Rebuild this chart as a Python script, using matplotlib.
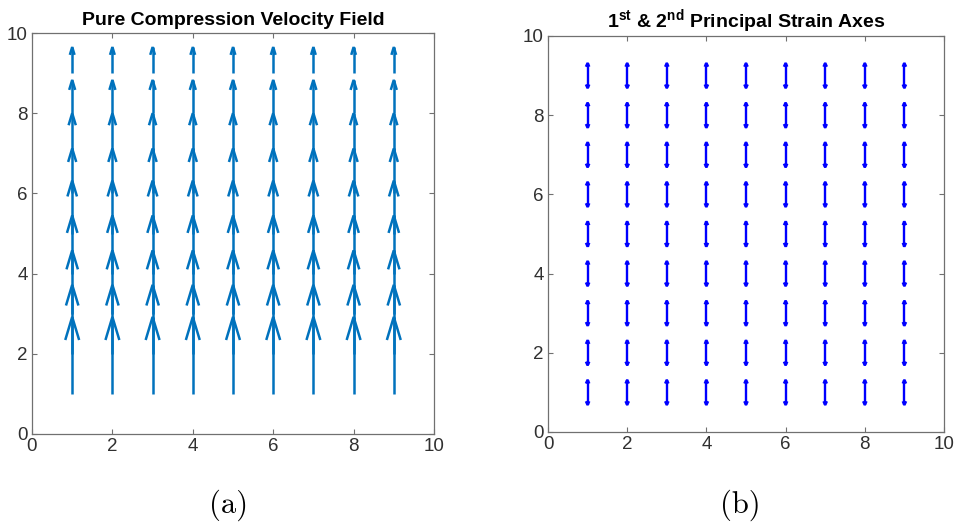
import numpy as np
import matplotlib
matplotlib.use("Agg")
import matplotlib.pyplot as plt

plt.rcParams['font.family'] = ['Liberation Sans', 'DejaVu Sans']
plt.rcParams['mathtext.fontset'] = 'custom'
plt.rcParams['mathtext.rm'] = 'Liberation Sans'
plt.rcParams['mathtext.bf'] = 'Liberation Sans:bold'

# grid points (both panels)
xs = [1, 2, 3, 4, 5, 6, 7, 8, 9]
ys = [1, 2, 3, 4, 5, 6, 7, 8, 9]
# (a) vertical velocity at each row y=1..9
v_rows = [1.92, 1.72, 1.58, 1.45, 1.32, 1.12, 1.0, 0.83, 0.65]
# (b) half-length of the principal strain arrows at each row
e_rows = [0.32, 0.32, 0.32, 0.32, 0.32, 0.32, 0.32, 0.32, 0.32]
ticks = [0, 2, 4, 6, 8, 10]

vel_col = '#0072BD'
strain_col = '#0000FF'
axis_col = '#707070'


def arrow(ax, x, y, u, v, col, lw, alpha=0.3, beta=0.3):
    # matlab-style quiver arrow: shaft + open head
    ax.plot([x, x + u], [y, y + v], color=col, lw=lw, solid_capstyle='butt')
    hx = [x + u - alpha * (u + beta * v), x + u, x + u - alpha * (u - beta * v)]
    hy = [y + v - alpha * (v - beta * u), y + v, y + v - alpha * (v + beta * u)]
    ax.plot(hx, hy, color=col, lw=lw, solid_capstyle='butt', solid_joinstyle='miter')


def style(ax, title):
    ax.set_xlim(0, 10)
    ax.set_ylim(0, 10)
    ax.set_xticks(ticks)
    ax.set_yticks(ticks)
    ax.tick_params(direction='in', length=3.5, width=0.8, color=axis_col,
                   labelcolor='#303030', labelsize=13.5, top=True, right=True, pad=3)
    for s in ax.spines.values():
        s.set_color(axis_col)
        s.set_linewidth(0.9)
    ax.set_title(title, fontsize=14, fontweight='bold', color='black', pad=6)


fig = plt.figure(figsize=(9.56, 5.25), dpi=100)
ax1 = fig.add_axes([32 / 956, 91 / 525, 402 / 956, 401 / 525])
ax2 = fig.add_axes([548 / 956, 93 / 525, 396 / 956, 396 / 525])

for x in xs:
    for y, v in zip(ys, v_rows):
        arrow(ax1, x, y, 0, v, vel_col, 1.8)
style(ax1, 'Pure Compression Velocity Field')

for x in xs:
    for y, e in zip(ys, e_rows):
        arrow(ax2, x, y, 0, e, strain_col, 1.7, 0.3, 0.45)
        arrow(ax2, x, y, 0, -e, strain_col, 1.7, 0.3, 0.45)
style(ax2, r'1$^{\mathbf{st}}$ & 2$^{\mathbf{nd}}$ Principal Strain Axes')

fig.text(229 / 956, 20 / 525, '(a)', family='cmr10', fontsize=22, ha='center', va='center')
fig.text(740 / 956, 20 / 525, '(b)', family='cmr10', fontsize=22, ha='center', va='center')

fig.savefig('out.png', dpi=100)
